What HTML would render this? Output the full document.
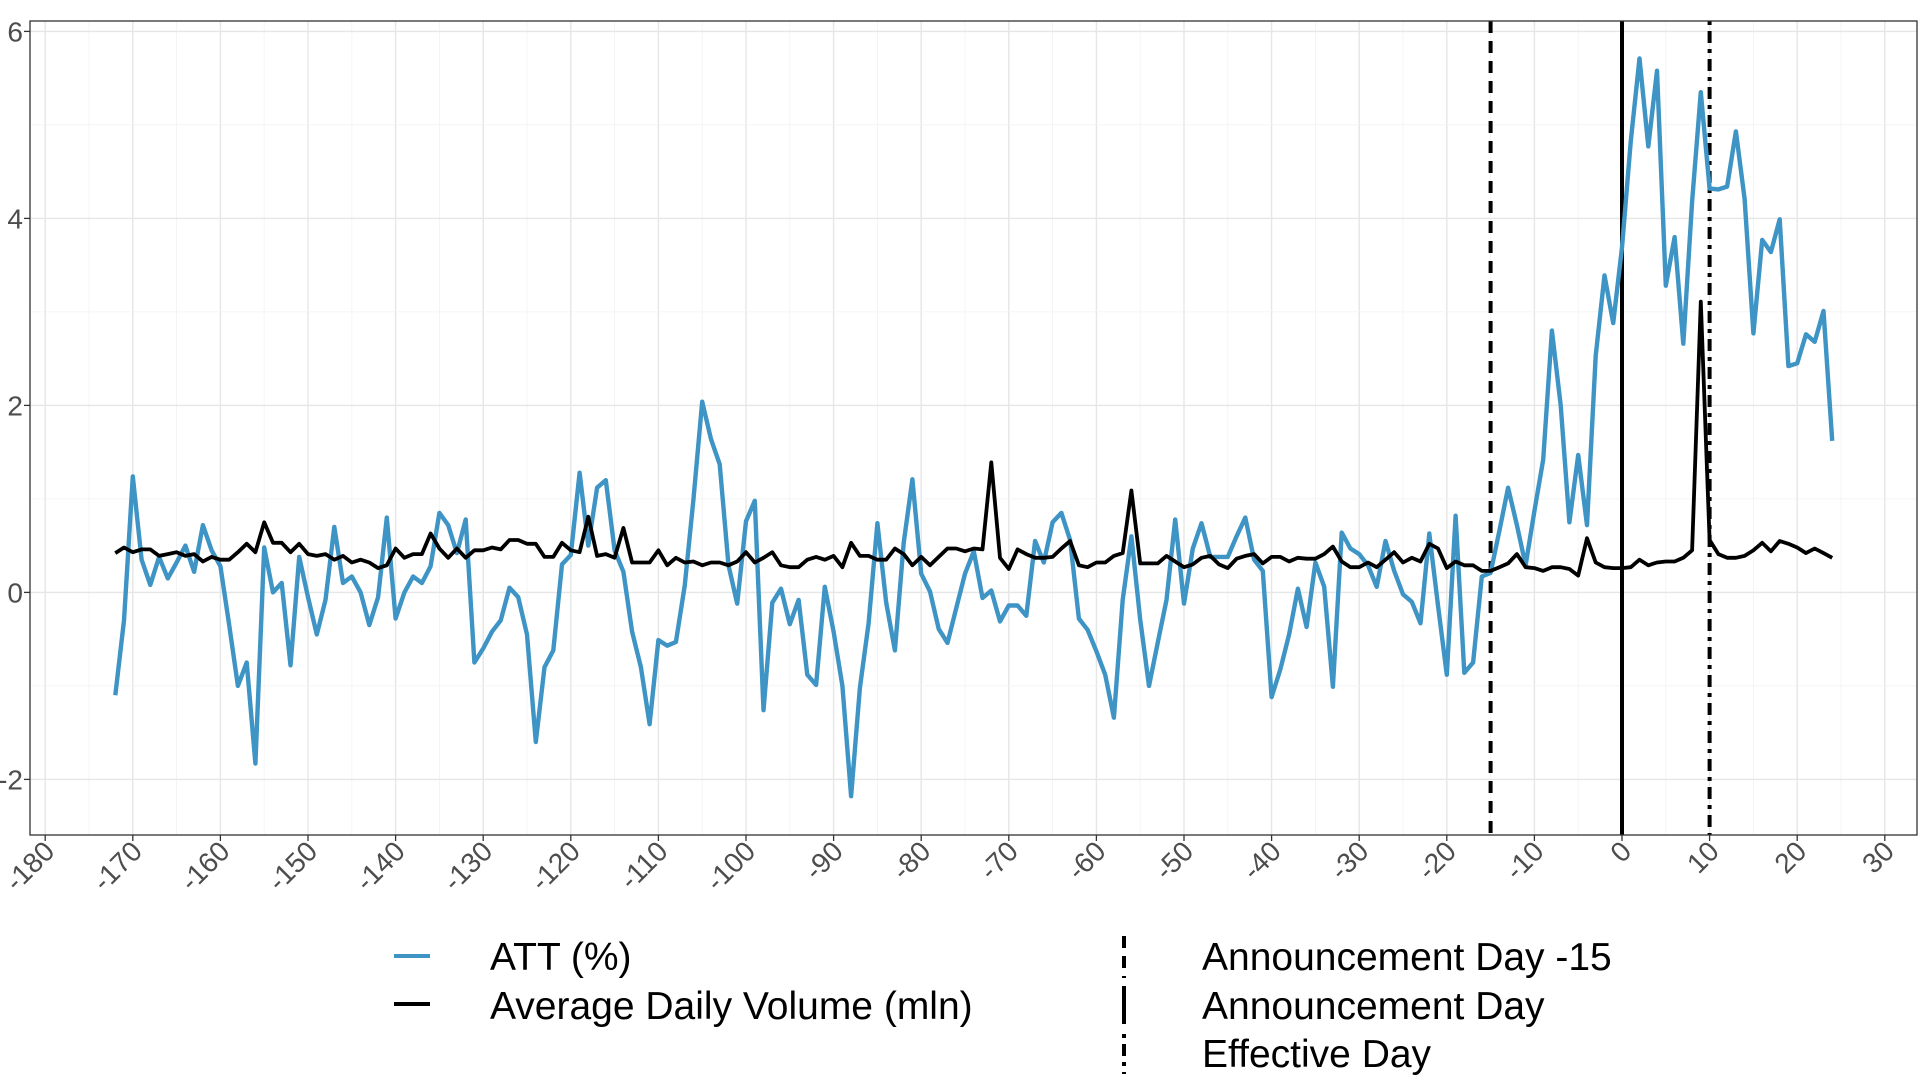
<!DOCTYPE html>
<html><head><meta charset="utf-8"><style>
html,body{margin:0;padding:0;background:#fff;}
svg{display:block;font-family:"Liberation Sans",Arial,sans-serif;}
</style></head><body>
<svg id="chart" width="1920" height="1080" viewBox="0 0 1920 1080">
<rect x="0" y="0" width="1920" height="1080" fill="#fff"/>
<g id="grid"></g>
<g id="vlines"></g>
<g id="series"></g>
<rect x="30" y="21" width="1887" height="814" fill="none" stroke="#333" stroke-width="1.3"/>
<g id="axes"></g>
<g id="legend">
  <line x1="394" y1="956" x2="430" y2="956" stroke="#3e94c4" stroke-width="4"/>
  <text x="490" y="970" font-size="39" fill="#000">ATT (%)</text>
  <line x1="394" y1="1004" x2="430" y2="1004" stroke="#000" stroke-width="4"/>
  <text x="490" y="1019" font-size="39" fill="#000">Average Daily Volume (mln)</text>
  <line x1="1124" y1="936" x2="1124" y2="978" stroke="#000" stroke-width="4" stroke-dasharray="12,8"/>
  <text x="1202" y="970" font-size="39" fill="#000">Announcement Day -15</text>
  <line x1="1124" y1="986" x2="1124" y2="1024" stroke="#000" stroke-width="4"/>
  <text x="1202" y="1019" font-size="39" fill="#000">Announcement Day</text>
  <line x1="1124" y1="1034" x2="1124" y2="1074" stroke="#000" stroke-width="4" stroke-dasharray="4,6,12,6"/>
  <text x="1202" y="1067" font-size="39" fill="#000">Effective Day</text>
</g>
</svg>
<script>
const startDay = -172;
const attValues = [-1.10,-0.3,1.24,0.35,0.08,0.38,0.15,0.32,0.5,0.22,
0.72,0.45,0.28,-0.35,-1.0,-0.75,-1.83,0.48,0.0,0.1,
-0.78,0.38,-0.05,-0.45,-0.08,0.7,0.1,0.17,0.0,-0.35,
-0.05,0.8,-0.28,0.0,0.17,0.1,0.28,0.85,0.72,0.42,
0.78,-0.75,-0.6,-0.42,-0.3,0.05,-0.05,-0.45,-1.6,-0.8,
-0.62,0.3,0.4,1.28,0.5,1.12,1.2,0.45,0.22,-0.42,
-0.8,-1.41,-0.51,-0.57,-0.53,0.07,0.99,2.04,1.64,1.37,
0.29,-0.12,0.76,0.98,-1.26,-0.11,0.04,-0.34,-0.08,-0.88,
-0.99,0.06,-0.42,-1.0,-2.18,-1.02,-0.33,0.74,-0.11,-0.62,
0.53,1.21,0.2,0.01,-0.39,-0.54,-0.17,0.2,0.44,-0.06,
0.02,-0.31,-0.14,-0.14,-0.25,0.55,0.32,0.75,0.85,0.56,
-0.28,-0.4,-0.63,-0.88,-1.34,-0.08,0.6,-0.29,-1.0,-0.54,
-0.08,0.78,-0.12,0.47,0.74,0.38,0.38,0.38,0.6,0.8,
0.35,0.23,-1.12,-0.82,-0.45,0.04,-0.37,0.32,0.06,-1.01,
0.64,0.47,0.41,0.29,0.06,0.55,0.23,-0.02,-0.1,-0.33,
0.63,-0.14,-0.88,0.82,-0.86,-0.75,0.17,0.21,0.66,1.12,
0.72,0.29,0.87,1.42,2.8,2.0,0.75,1.47,0.72,2.53,
3.39,2.88,3.69,4.83,5.71,4.77,5.58,3.28,3.8,2.66,
4.18,5.35,4.32,4.31,4.34,4.93,4.21,2.77,3.77,3.64,
3.99,2.42,2.45,2.76,2.68,3.01,1.62];
const volumeValues = [0.42,0.48,0.43,0.46,0.46,0.39,0.41,0.43,0.39,0.41,
0.33,0.38,0.35,0.35,0.43,0.52,0.43,0.75,0.53,0.53,
0.43,0.52,0.41,0.39,0.41,0.35,0.39,0.32,0.35,0.32,
0.26,0.29,0.47,0.37,0.41,0.41,0.63,0.47,0.37,0.47,
0.37,0.45,0.45,0.48,0.46,0.56,0.56,0.52,0.52,0.38,
0.38,0.53,0.45,0.43,0.81,0.39,0.41,0.37,0.69,0.32,
0.32,0.32,0.45,0.29,0.37,0.32,0.33,0.29,0.32,0.32,
0.29,0.33,0.43,0.32,0.37,0.43,0.29,0.27,0.27,0.35,
0.38,0.35,0.39,0.27,0.53,0.39,0.39,0.35,0.35,0.47,
0.41,0.29,0.38,0.29,0.38,0.47,0.47,0.44,0.47,0.46,
1.39,0.37,0.25,0.46,0.41,0.37,0.37,0.38,0.47,0.55,
0.29,0.27,0.32,0.32,0.39,0.42,1.09,0.31,0.31,0.31,
0.39,0.33,0.27,0.3,0.37,0.39,0.3,0.26,0.36,0.39,
0.41,0.31,0.38,0.38,0.33,0.37,0.36,0.36,0.41,0.49,
0.33,0.27,0.27,0.32,0.27,0.35,0.43,0.32,0.37,0.33,
0.52,0.47,0.26,0.33,0.29,0.29,0.23,0.23,0.27,0.31,
0.41,0.27,0.26,0.23,0.27,0.27,0.25,0.18,0.58,0.32,
0.27,0.26,0.26,0.27,0.35,0.29,0.32,0.33,0.33,0.37,
0.45,3.11,0.56,0.41,0.37,0.37,0.39,0.45,0.53,0.44,
0.55,0.52,0.48,0.42,0.47,0.42,0.37];
const xTicks = [-180,-170,-160,-150,-140,-130,-120,-110,-100,-90,-80,-70,-60,-50,-40,-30,-20,-10,0,10,20,30];
const yTicks = [-2,0,2,4,6];
const eventDays = [-15,0,10];

const NS = "http://www.w3.org/2000/svg";
function xs(d){return 1622 + 8.76*d;}
function ys(v){return 592.4 - 93.5*v;}
function mk(tag, attrs, parent){const e=document.createElementNS(NS,tag);for(const k in attrs)e.setAttribute(k,attrs[k]);parent.appendChild(e);return e;}

const grid=document.getElementById('grid');
for(let d=-185; d<=35; d+=5){
  if(xs(d)<30||xs(d)>1917) continue;
  const major = d%10===0;
  const l=mk('line',{x1:xs(d),x2:xs(d),y1:21,y2:835,stroke:major?'#e6e6e6':'#f2f2f2','stroke-width':major?1.4:0.8},grid);
  
  
}
for(let v=-3; v<=6; v+=1){
  if(ys(v)<21||ys(v)>835) continue;
  const major = v%2===0;
  const l=mk('line',{x1:30,x2:1917,y1:ys(v),y2:ys(v),stroke:major?'#e6e6e6':'#f2f2f2','stroke-width':major?1.4:0.8},grid);
  
  
}

const vl=document.getElementById('vlines');
const dashes=['12,8','none','4,6,12,6'];
const vnames=['announcement-minus-15-line','announcement-day-line','effective-day-line'];
eventDays.forEach((d,i)=>{
  const l=mk('line',{x1:xs(d),x2:xs(d),y1:21,y2:835,stroke:'#000','stroke-width':4},vl);
  if(dashes[i]!=='none') l.setAttribute('stroke-dasharray',dashes[i]);
  
  
});

const ser=document.getElementById('series');
function path(vals){return vals.map((v,i)=>(i?'L':'M')+xs(startDay+i).toFixed(1)+','+ys(v).toFixed(1)).join(' ');}
const pa=mk('path',{d:path(attValues),fill:'none',stroke:'#3e94c4','stroke-width':4.4,'stroke-linejoin':'round'},ser);


const pv=mk('path',{d:path(volumeValues),fill:'none',stroke:'#000','stroke-width':3.8,'stroke-linejoin':'round'},ser);



const ax=document.getElementById('axes');
xTicks.forEach(t=>{
  const tk=mk('line',{x1:xs(t),x2:xs(t),y1:835,y2:841,stroke:'#333','stroke-width':1.3},ax);
  
  
  const tx=mk('text',{x:0,y:0,'font-size':28,fill:'#4d4d4d','text-anchor':'end',transform:`translate(${xs(t)+11},${853}) rotate(-45)`},ax);
  tx.textContent=String(t);
  
  
});
yTicks.forEach(t=>{
  const tk=mk('line',{x1:24,x2:30,y1:ys(t),y2:ys(t),stroke:'#333','stroke-width':1.3},ax);
  
  
  const tx=mk('text',{x:23,y:ys(t)+10,'font-size':28,fill:'#4d4d4d','text-anchor':'end'},ax);
  tx.textContent=String(t);
  
  
});
</script>
</body></html>
